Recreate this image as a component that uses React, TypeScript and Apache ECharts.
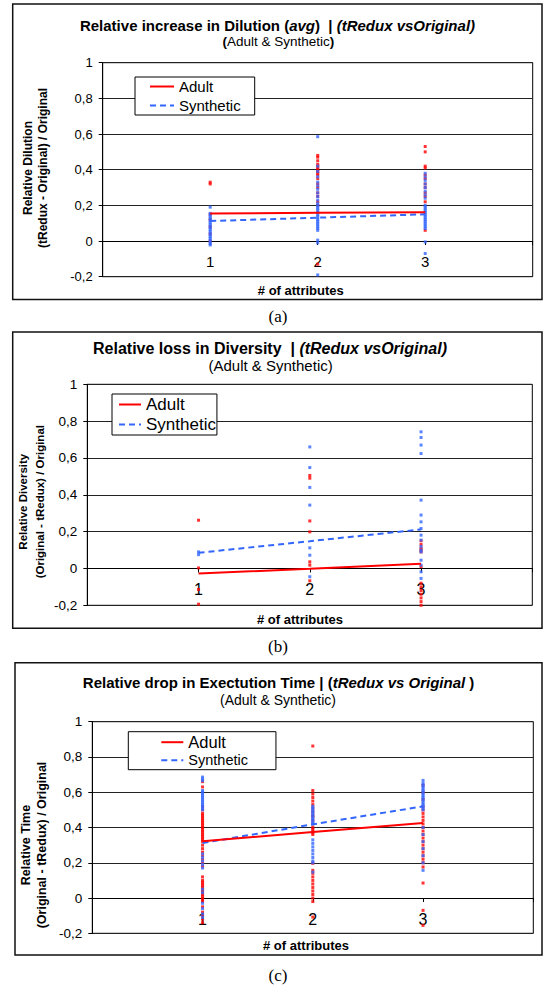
import React, { useEffect, useRef } from "react";
import * as echarts from "echarts";

// ---------- data ----------
const attributeTicks = [1, 2, 3];
const legendNames = ["Adult", "Synthetic"];

// (a) Relative increase in Dilution
const dilutionAdultMean = [0.155, 0.158, 0.162];
const dilutionSynthMean = [0.112, 0.131, 0.15];
const dilutionAdult1 = [0.33, 0.32, 0.15, 0.12, 0.08, 0.04, 0.0];
const dilutionSynth1 = [0.19, 0.155, 0.145, 0.135, 0.125, 0.115, 0.105, 0.095, 0.085, 0.075, 0.065, 0.055, 0.045, 0.035, 0.025, 0.015, 0.005, -0.005, -0.015, -0.022];
const dilutionAdult2 = [0.48, 0.47, 0.45, 0.43, 0.42, 0.41, 0.4, 0.39, 0.38, 0.37, 0.35, 0.32, 0.3, 0.27, 0.25, 0.22, 0.2, -0.13];
const dilutionSynth2 = [0.585, 0.42, 0.39, 0.36, 0.33, 0.31, 0.29, 0.27, 0.25, 0.23, 0.21, 0.2, 0.19, 0.18, 0.17, 0.16, 0.15, 0.14, 0.13, 0.12, 0.11, 0.1, 0.09, 0.08, 0.07, 0.06, 0.005, -0.01, -0.19];
const dilutionAdult3 = [0.53, 0.5, 0.42, 0.41, 0.37, 0.35, 0.32, 0.3, 0.27, 0.25, 0.22, 0.06];
const dilutionSynth3 = [0.38, 0.36, 0.34, 0.32, 0.3, 0.28, 0.26, 0.24, 0.2, 0.19, 0.18, 0.17, 0.16, 0.15, 0.14, 0.13, 0.12, 0.11, 0.1, 0.09, 0.08, 0.07, -0.005, -0.07];

// (b) Relative loss in Diversity
const diversityAdultMean = [-0.027, -0.002, 0.025];
const diversitySynthMean = [0.085, 0.148, 0.212];
const diversityAdult1 = [0.262, 0.003, -0.114, -0.194];
const diversitySynth1 = [0.09, 0.075];
const diversityAdult2 = [0.505, 0.49, 0.258, 0.199, 0.036, 0.018, -0.067];
const diversitySynth2 = [0.66, 0.548, 0.44, 0.344, 0.112, 0.072, -0.045];
const diversityAdult3 = [0.15, 0.13, 0.11, 0.1, 0.09, 0.01, -0.08, -0.1, -0.12, -0.14, -0.16, -0.18, -0.2];
const diversitySynth3 = [0.742, 0.711, 0.67, 0.624, 0.371, 0.29, 0.253, 0.217, 0.181, 0.154, 0.12, 0.1, 0.09, 0.045, 0.018, -0.018, -0.054];

// (c) Relative drop in Execution Time
const timeAdultMean = [0.322, 0.374, 0.425];
const timeSynthMean = [0.312, 0.418, 0.52];
const timeAdult1 = [0.66, 0.63, 0.52, 0.5, 0.48, 0.47, 0.46, 0.45, 0.44, 0.43, 0.42, 0.41, 0.4, 0.39, 0.38, 0.37, 0.36, 0.35, 0.34, 0.33, 0.32, 0.3, 0.28, 0.26, 0.24, 0.22, 0.2, 0.18, 0.12, 0.1, 0.09, 0.08, 0.07, 0.06, 0.05, 0.04, 0.03, 0.02, 0.01, 0.0, -0.01, -0.02, -0.05, -0.08, -0.1, -0.12, -0.14];
const timeSynth1 = [0.686, 0.675, 0.665, 0.61, 0.6, 0.59, 0.58, 0.57, 0.56, 0.55, 0.54, 0.53, 0.52, 0.51, 0.5, 0.25, 0.23, 0.21, 0.19, 0.17, 0.05, 0.03, -0.03, -0.06, -0.09, -0.11];
const timeAdult2 = [0.862, 0.61, 0.59, 0.57, 0.55, 0.53, 0.51, 0.49, 0.47, 0.46, 0.44, 0.42, 0.4, 0.39, 0.38, 0.37, 0.36, 0.197, 0.157, 0.14, 0.12, 0.1, 0.08, 0.06, 0.04, 0.02, 0.0, -0.02, -0.108];
const timeSynth2 = [0.52, 0.51, 0.5, 0.49, 0.48, 0.47, 0.46, 0.45, 0.44, 0.43, 0.42, 0.33, 0.31, 0.29, 0.27, 0.25, 0.23, 0.21, 0.2, 0.147];
const timeAdult3 = [0.64, 0.6, 0.56, 0.52, 0.5, 0.48, 0.46, 0.44, 0.42, 0.4, 0.38, 0.36, 0.34, 0.32, 0.3, 0.28, 0.26, 0.24, 0.22, 0.2, 0.176, 0.085, -0.07, -0.155];
const timeSynth3 = [0.667, 0.65, 0.64, 0.63, 0.62, 0.61, 0.6, 0.59, 0.58, 0.57, 0.56, 0.55, 0.54, 0.53, 0.52, 0.51, 0.5, 0.4, 0.36, 0.32, 0.28, 0.24, 0.2, 0.157];

// ---------- helpers ----------
const RED = "#ff0000";
const BLUE = "#3366ff";
const FONT = "Liberation Sans, Arial, sans-serif";
const Y_MIN = -0.2;
const Y_MAX = 1;

const pts = (x: number, arr: number[]) => arr.map((v) => [x, v]);
const meanLine = (arr: number[]) => arr.map((v, i) => [attributeTicks[i], v]);

const yFmt = (v: number) => {
  const r = Math.round(v * 10) / 10;
  if (r === 0) return "0";
  if (r === 1) return "1";
  return r.toFixed(1).replace(".", ",");
};

type PanelData = {
  adultMean: number[];
  synthMean: number[];
  adult: number[][];
  synth: number[][];
};

const panels: PanelData[] = [
  { adultMean: dilutionAdultMean, synthMean: dilutionSynthMean, adult: [dilutionAdult1, dilutionAdult2, dilutionAdult3], synth: [dilutionSynth1, dilutionSynth2, dilutionSynth3] },
  { adultMean: diversityAdultMean, synthMean: diversitySynthMean, adult: [diversityAdult1, diversityAdult2, diversityAdult3], synth: [diversitySynth1, diversitySynth2, diversitySynth3] },
  { adultMean: timeAdultMean, synthMean: timeSynthMean, adult: [timeAdult1, timeAdult2, timeAdult3], synth: [timeSynth1, timeSynth2, timeSynth3] },
];

const layout = [
  { grid: { left: 102.7, top: 62.7, width: 430, height: 214 }, yLabel: 13, xLabel: 15 },
  { grid: { left: 87.3, top: 384.3, width: 445, height: 221 }, yLabel: 13.5, xLabel: 16 },
  { grid: { left: 92.3, top: 721.7, width: 441, height: 211.6 }, yLabel: 13.5, xLabel: 16 },
];

function buildOption() {
  const grids: any[] = [];
  const xAxes: any[] = [];
  const yAxes: any[] = [];
  const series: any[] = [];

  layout.forEach((L, i) => {
    grids.push({ ...L.grid, show: true, borderColor: "#000", borderWidth: 1, containLabel: false });
    // place the category axis on the zero line (Excel style)
    const zeroOffset = -(L.grid.height * (0 - Y_MIN)) / (Y_MAX - Y_MIN);
    xAxes.push({
      type: "value",
      gridIndex: i,
      position: "bottom",
      offset: zeroOffset,
      min: 0,
      max: 4,
      interval: 1,
      axisLine: { show: true, onZero: false, lineStyle: { color: "#000", width: 1 } },
      axisTick: { show: true, length: 4, lineStyle: { color: "#000" } },
      splitLine: { show: false },
      axisLabel: {
        margin: 13,
        fontSize: L.xLabel,
        color: "#000",
        fontFamily: FONT,
        formatter: (v: number) => (attributeTicks.includes(v) ? String(v) : ""),
      },
    });
    yAxes.push({
      type: "value",
      gridIndex: i,
      min: Y_MIN,
      max: Y_MAX,
      interval: 0.2,
      axisLine: { show: true, onZero: false, lineStyle: { color: "#000", width: 1 } },
      axisTick: { show: true, length: 4, lineStyle: { color: "#000" } },
      splitLine: { show: true, lineStyle: { color: "#222", width: 1 } },
      axisLabel: { margin: 10, fontSize: L.yLabel, color: "#000", fontFamily: FONT, formatter: yFmt },
    });

    const P = panels[i];
    P.adult.forEach((arr, k) => {
      series.push({
        type: "scatter",
        name: "Adult points",
        xAxisIndex: i,
        yAxisIndex: i,
        symbol: "rect",
        symbolSize: 3,
        itemStyle: { color: RED },
        data: pts(attributeTicks[k], arr),
        z: 2,
      });
    });
    P.synth.forEach((arr, k) => {
      series.push({
        type: "scatter",
        name: "Synthetic points",
        xAxisIndex: i,
        yAxisIndex: i,
        symbol: "rect",
        symbolSize: 3,
        itemStyle: { color: BLUE },
        data: pts(attributeTicks[k], arr),
        z: 3,
      });
    });
    series.push({
      type: "line",
      name: "Adult",
      xAxisIndex: i,
      yAxisIndex: i,
      symbol: "none",
      lineStyle: { color: RED, width: 2, type: "solid" },
      itemStyle: { color: RED },
      data: meanLine(P.adultMean),
      z: 5,
    });
    series.push({
      type: "line",
      name: "Synthetic",
      xAxisIndex: i,
      yAxisIndex: i,
      symbol: "none",
      lineStyle: { color: BLUE, width: 2, type: [6, 4] },
      itemStyle: { color: BLUE },
      data: meanLine(P.synthMean),
      z: 4,
    });
  });

  const legendBase = {
    data: legendNames,
    orient: "vertical",
    backgroundColor: "#fff",
    borderColor: "#000",
    borderWidth: 1,
    borderRadius: 0,
    selectedMode: false,
    itemHeight: 12,
    itemStyle: { opacity: 0, borderWidth: 0 },
  };

  const legends = [
    { ...legendBase, left: 135, top: 77, padding: [2, 14, 2, 14], itemGap: 4, itemWidth: 24, textStyle: { fontSize: 15, color: "#000", fontFamily: FONT } },
    { ...legendBase, left: 112, top: 394, padding: [2, 1, 2, 6], itemGap: 3, itemWidth: 22, textStyle: { fontSize: 17, color: "#000", fontFamily: FONT } },
    {
      ...legendBase,
      left: 128.3,
      top: 731.7,
      padding: [2, 28, 2, 32],
      itemGap: 2,
      itemWidth: 22,
      formatter: (name: string) => (name === "Adult" ? "{a|Adult}" : "{s|Synthetic}"),
      textStyle: {
        color: "#000",
        fontFamily: FONT,
        rich: { a: { fontSize: 16.5, fontFamily: FONT, color: "#000" }, s: { fontSize: 14.5, fontFamily: FONT, color: "#000" } },
      },
    },
  ];

  const txt = (text: string, x: number, y: number, fontSize: number, weight = "normal") => ({
    type: "text",
    x,
    y,
    style: {
      text,
      fill: "#000",
      font: `${weight} ${fontSize}px ${FONT}`,
      align: "center",
      verticalAlign: "middle",
    },
  });

  const richTitle = (text: string, x: number, y: number, size: number) => ({
    type: "text",
    x,
    y,
    style: {
      text,
      align: "center",
      verticalAlign: "middle",
      fill: "#000",
      rich: {
        b: { fontSize: size, fontWeight: "bold", fontFamily: FONT, fill: "#000", color: "#000" },
        bi: { fontSize: size, fontWeight: "bold", fontStyle: "italic", fontFamily: FONT, fill: "#000", color: "#000" },
        r: { fontSize: size, fontWeight: "normal", fontFamily: FONT, fill: "#000", color: "#000" },
      },
    },
  });

  const frame = (x: number, y: number, w: number, h: number) => ({
    type: "rect",
    shape: { x, y, width: w, height: h },
    style: { fill: "none", stroke: "#111", lineWidth: 1.5 },
  });

  const vTitle = (text: string, x: number, y: number, size: number, lh: number) => ({
    type: "text",
    x,
    y,
    rotation: Math.PI / 2,
    style: {
      text,
      fill: "#000",
      font: `bold ${size}px ${FONT}`,
      lineHeight: lh,
      align: "center",
      verticalAlign: "middle",
    },
  });

  const caption = (text: string, x: number, y: number) => ({
    type: "text",
    x,
    y,
    style: { text, fill: "#000", font: "17px Liberation Serif, DejaVu Serif, serif", align: "center", verticalAlign: "middle" },
  });

  const graphic = [
    frame(12.7, 4, 529.3, 295.5),
    frame(12.7, 332, 529.3, 296.3),
    frame(15, 662.7, 527, 292.3),
    richTitle("{b|Relative increase in Dilution (}{bi|avg}{b|)  | }{bi|(tRedux vsOriginal)}", 277.5, 25, 15),
    richTitle("{b|(}{r|Adult & Synthetic}{b|)}", 278.4, 41.7, 13.5),
    richTitle("{b|Relative loss in Diversity  | }{bi|(tRedux vsOriginal)}", 270, 348.3, 16),
    richTitle("{r|(Adult & Synthetic)}", 270.6, 365, 15),
    richTitle("{b|Relative drop in Exectution Time | (}{bi|tRedux vs Original}{b| )}", 278.6, 682.7, 15),
    richTitle("{r|(Adult & Synthetic)}", 278, 700, 14),
    vTitle("Relative Dilution\n(tRedux - Original) / Original", 35.5, 168, 12, 15),
    vTitle("Relative Diversity\n(Original - tRedux) / Original", 31.3, 501.7, 11.5, 17),
    vTitle("Relative Time\n(Original - tRedux) / Original", 33.8, 845, 12.5, 15.7),
    txt("# of attributes", 300.8, 290, 13, "bold"),
    txt("# of attributes", 300, 619, 13, "bold"),
    txt("# of attributes", 306, 945, 13, "bold"),
    caption("(a)", 278, 316.7),
    caption("(b)", 278, 646.7),
    caption("(c)", 278, 975),
  ];

  return {
    animation: false,
    backgroundColor: "#fff",
    textStyle: { fontFamily: FONT },
    grid: grids,
    xAxis: xAxes,
    yAxis: yAxes,
    legend: legends,
    series,
    graphic,
  };
}

export default function App() {
  const ref = useRef<HTMLDivElement | null>(null);
  useEffect(() => {
    if (!ref.current) return;
    const chart = echarts.init(ref.current, undefined, { renderer: "svg" });
    chart.setOption(buildOption() as any);
    return () => chart.dispose();
  }, []);
  return (
    <div
      ref={ref}
      style={{ position: "fixed", left: 0, top: 0, width: 549, height: 986, background: "#fff" }}
    />
  );
}
